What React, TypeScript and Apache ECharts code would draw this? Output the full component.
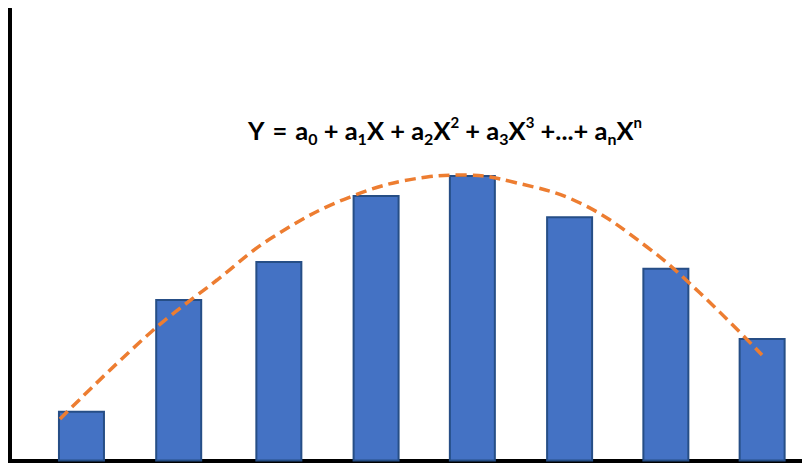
import React, { useEffect, useRef } from "react";
import * as echarts from "echarts";

const barPositions = [1, 2, 3.03, 4.03, 5.02, 6.02, 7.01, 8];
const barValues = [1.12, 3.59, 4.43, 5.89, 6.33, 5.42, 4.28, 2.73];

const curveX = [0.779, 1.705, 2.394, 2.97, 3.762, 4.553, 4.944, 5.438, 6.127, 6.816, 7.361, 7.999];
const curveY = [0.939, 2.84, 4.011, 4.961, 5.845, 6.287, 6.331, 6.177, 5.713, 4.74, 3.723, 2.354];

const formula =
  "{m|Y}{eq|=}{m|a}{sub|0}{m| + a}{sub|1}{m|X + a}{sub|2}{m|X}{sup|2}{m| + a}{sub|3}{m|X}{sup|3}{m| +...+ a}{sub|n}{m|X}{sup|n}";

export default function App() {
  const ref = useRef<HTMLDivElement>(null);
  useEffect(() => {
    if (!ref.current) return;
    const chart = echarts.init(ref.current, null, { renderer: "svg" });
    const font = "Lato, 'Noto Sans', sans-serif";
    chart.setOption({
      animation: false,
      grid: { left: 9.5, right: 8, top: 9, bottom: 9.5 },
      xAxis: {
        type: "value",
        min: 0.26,
        max: 8.41,
        axisLine: { show: true, onZero: false, lineStyle: { color: "#000", width: 5 } },
        axisTick: { show: false },
        axisLabel: { show: false },
        splitLine: { show: false },
      },
      yAxis: {
        type: "value",
        min: 0,
        max: 10,
        axisLine: { show: true, onZero: false, lineStyle: { color: "#000", width: 5 } },
        axisTick: { show: false },
        axisLabel: { show: false },
        splitLine: { show: false },
      },
      series: [
        {
          type: "bar",
          data: barPositions.map((c, i) => [c, barValues[i]]),
          barWidth: 47,
          itemStyle: { color: "#4472C4", borderColor: "#264E86", borderWidth: 2 },
        },
        {
          type: "line",
          data: curveX.map((x, i) => [x, curveY[i]]),
          smooth: 0.4,
          symbol: "none",
          lineStyle: { color: "#ED7D31", width: 3.5, type: [11, 6] },
        },
      ],
      graphic: [
        {
          type: "text",
          x: 445,
          y: 130,
          style: {
            text: formula,
            align: "center",
            verticalAlign: "middle",
            rich: {
              m: { fontFamily: font, fontWeight: "bold", fontSize: 25.5, lineHeight: 32, fill: "#000" },
              eq: { fontFamily: font, fontWeight: "bold", fontSize: 25.5, lineHeight: 32, padding: [0, 8, 0, 8], fill: "#000" },
              sub: { fontFamily: font, fontWeight: "bold", fontSize: 16, lineHeight: 16, verticalAlign: "bottom", fill: "#000" },
              sup: { fontFamily: font, fontWeight: "bold", fontSize: 15, lineHeight: 10, verticalAlign: "top", fill: "#000" },
            },
          },
        },
      ],
    });
    return () => chart.dispose();
  }, []);
  return <div ref={ref} style={{ width: 810, height: 471, margin: -8 }} />;
}
